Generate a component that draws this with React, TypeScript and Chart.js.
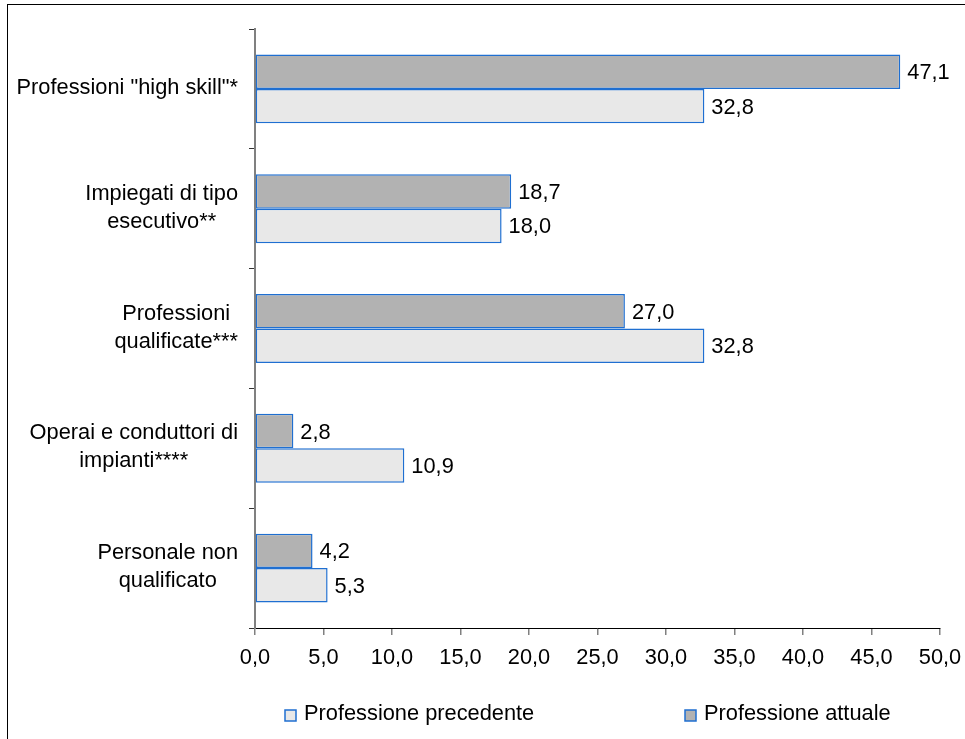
import React, { useEffect, useRef } from "react";
import { Chart, registerables } from "chart.js";

Chart.register(...registerables);

const categories: string[][] = [
  ['Professioni "high skill"*'],
  ["Impiegati di tipo", "esecutivo**"],
  ["Professioni", "qualificate***"],
  ["Operai e conduttori di", "impianti****"],
  ["Personale non", "qualificato"],
];
const attuale = [47.1, 18.7, 27.0, 2.8, 4.2];
const precedente = [32.8, 18.0, 32.8, 10.9, 5.3];
const xMin = 0;
const xMax = 50;
const xStep = 5;
const legendLabels = ["Professione precedente", "Professione attuale"];

const FONT = "'Liberation Sans', Arial, sans-serif";
const FS = 21.8;
const BLUE = "#1f6fd1";
const DARK = "#b2b2b2";
const LIGHT = "#e8e8e8";

const fmt = (v: number) => v.toFixed(1).replace(".", ",");

const customPlugin = {
  id: "custom",
  afterDraw(chart: any) {
    const ctx = chart.ctx as CanvasRenderingContext2D;
    const ca = chart.chartArea;
    const yScale = chart.scales.y;
    ctx.save();
    ctx.font = `${FS}px ${FONT}`;
    ctx.fillStyle = "#000";
    ctx.textBaseline = "alphabetic";
    // category labels: block right-aligned, lines centred
    const blockRight = ca.left - 17;
    categories.forEach((lines, i) => {
      const cy = yScale.getPixelForTick(i);
      const maxW = Math.max(...lines.map((l) => ctx.measureText(l).width));
      const cx = blockRight - maxW / 2;
      ctx.textAlign = "center";
      lines.forEach((l, j) => {
        const y = cy + 5 + (j - (lines.length - 1) / 2) * 28;
        ctx.fillText(l, cx, y);
      });
    });
    // data labels
    ctx.textAlign = "left";
    chart.data.datasets.forEach((ds: any, di: number) => {
      const meta = chart.getDatasetMeta(di);
      meta.data.forEach((el: any, i: number) => {
        ctx.fillText(fmt(ds.data[i]), el.x + 7, el.y + 7.5);
      });
    });
    // legend
    const items = [
      { text: legendLabels[0], fill: LIGHT, x: ca.left + 30 },
      { text: legendLabels[1], fill: DARK, x: ca.left + 430 },
    ];
    const ly = 710;
    items.forEach((it) => {
      ctx.fillStyle = it.fill;
      ctx.fillRect(it.x, ly, 11, 11);
      ctx.strokeStyle = BLUE;
      ctx.lineWidth = 1.5;
      ctx.strokeRect(it.x, ly, 11, 11);
      ctx.fillStyle = "#000";
      ctx.textAlign = "left";
      ctx.fillText(it.text, it.x + 19, ly + 10);
    });
    ctx.restore();
  },
};

export default function App() {
  const ref = useRef<HTMLCanvasElement>(null);
  useEffect(() => {
    if (!ref.current) return;
    const chart = new Chart(ref.current, {
      type: "bar",
      data: {
        labels: categories,
        datasets: [
          {
            label: legendLabels[1],
            data: attuale,
            backgroundColor: DARK,
            borderColor: BLUE,
            borderWidth: 1.5,
            borderSkipped: false,
            categoryPercentage: 0.575,
            barPercentage: 1,
          },
          {
            label: legendLabels[0],
            data: precedente,
            backgroundColor: LIGHT,
            borderColor: BLUE,
            borderWidth: 1.5,
            borderSkipped: false,
            categoryPercentage: 0.575,
            barPercentage: 1,
          },
        ],
      },
      options: {
        indexAxis: "y",
        responsive: false,
        animation: false,
        layout: { padding: { top: 29, right: 25, bottom: 61, left: 0 } },
        plugins: {
          legend: { display: false },
          tooltip: { enabled: false },
        },
        scales: {
          x: {
            min: xMin,
            max: xMax,
            ticks: {
              stepSize: xStep,
              color: "#000",
              font: { family: FONT, size: FS },
              padding: 10,
              callback: (v: any) => fmt(Number(v)),
            },
            grid: {
              drawOnChartArea: false,
              drawTicks: true,
              tickLength: 7,
              tickColor: "#808080",
              lineWidth: 1.5,
            },
            border: { color: "#000", width: 1 },
            afterFit: (s: any) => {
              s.height = 50;
              s.paddingRight = 0;
              s.paddingLeft = 0;
            },
          },
          y: {
            ticks: { display: false },
            grid: {
              drawOnChartArea: false,
              drawTicks: true,
              tickLength: 6,
              tickColor: "#333",
              offset: true,
            },
            border: { color: "#808080", width: 2 },
            afterFit: (s: any) => {
              s.width = 255;
            },
          },
        },
      },
      plugins: [customPlugin],
    });
    return () => chart.destroy();
  }, []);

  return (
    <div style={{ position: "fixed", left: 0, top: 0, width: 965, height: 739, background: "#fff", overflow: "hidden" }}>
      <div
        style={{
          position: "absolute",
          left: 7,
          top: 4,
          width: 1000,
          height: 800,
          borderLeft: "1.5px solid #000",
          borderTop: "1.5px solid #000",
        }}
      />
      <canvas ref={ref} width={965} height={739} style={{ position: "absolute", left: 0, top: 0, width: 965, height: 739 }} />
    </div>
  );
}
